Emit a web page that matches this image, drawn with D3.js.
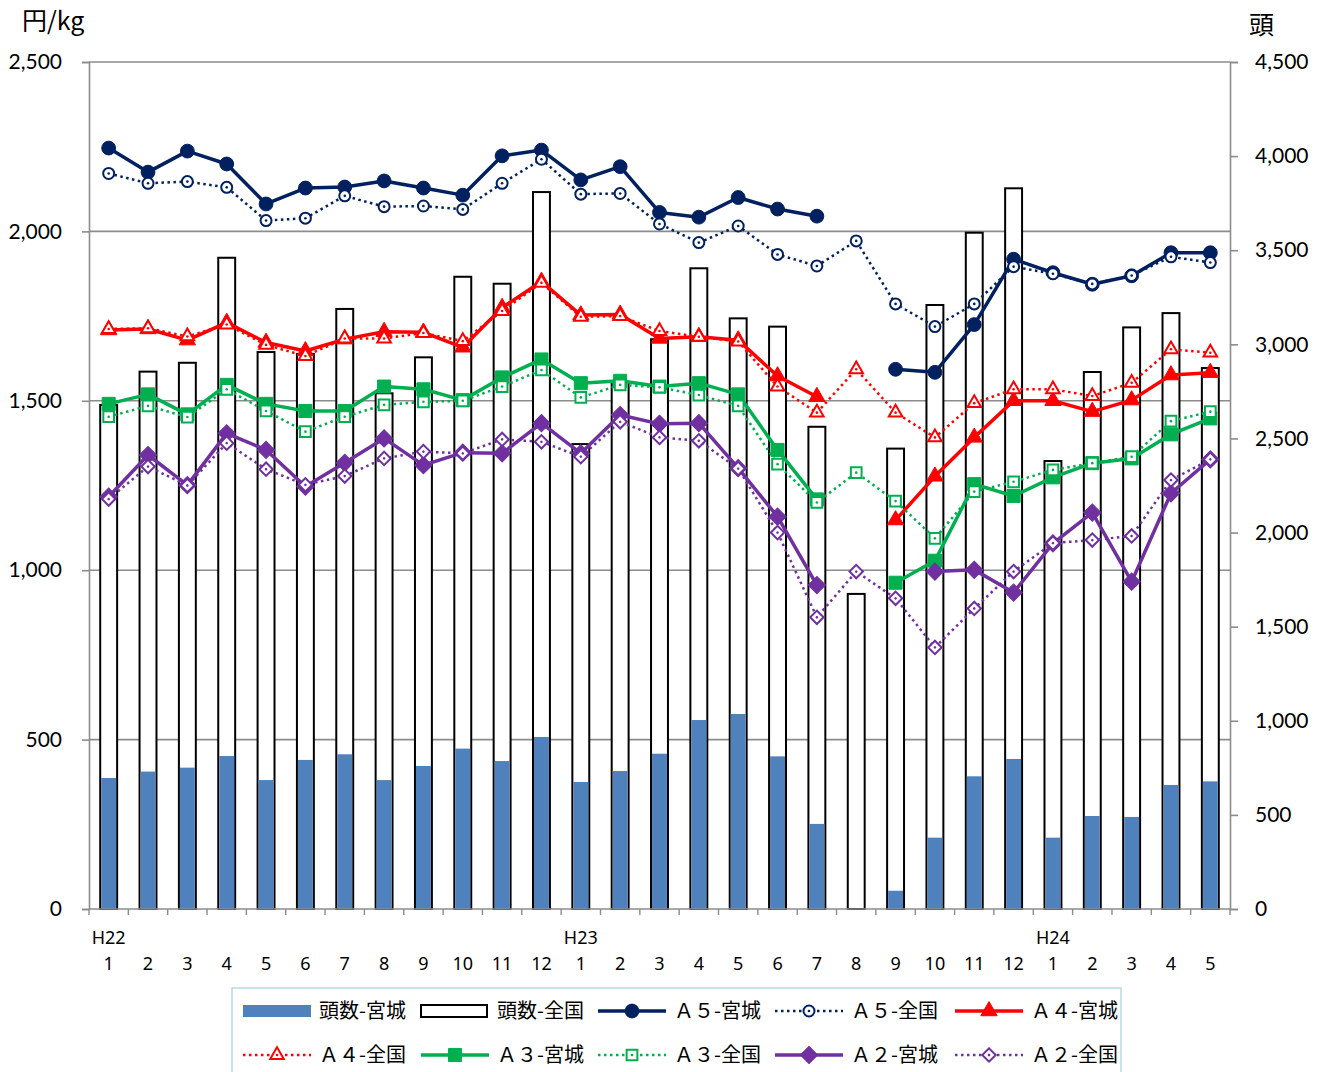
<!DOCTYPE html>
<html>
<head>
<meta charset="utf-8">
<script src="https://cdn.jsdelivr.net/npm/d3@7"></script>
<style>
  html, body { margin: 0; padding: 0; background: #fff; }
  svg { display: block; }
</style>
</head>
<body>
<svg id="chart" width="1323" height="1072"></svg>
<script>
// Months from H22.1 to H24.5
const months = ["1","2","3","4","5","6","7","8","9","10","11","12",
                "1","2","3","4","5","6","7","8","9","10","11","12",
                "1","2","3","4","5"];
const eraLabels = [{ idx: 0, text: "H22" }, { idx: 12, text: "H23" }, { idx: 24, text: "H24" }];

// Head counts (right axis, 頭)
const headMiyagi   = [696,730,751,813,685,792,822,685,760,852,786,914,
                      675,733,825,1004,1036,811,452,0,97,379,705,797,
                      379,494,489,659,678];
const headNational = [2678,2855,2902,3460,2959,2949,3188,2740,2931,3359,3322,3809,
                      2470,2800,3027,3404,3138,3094,2562,1674,2446,3209,3593,3829,
                      2380,2853,3090,3166,2874];

// Prices by grade (left axis, 円/kg); null = no trade that month
const a5Miyagi   = [2246,2175,2237,2199,2081,2128,2131,2149,2128,2107,2223,2240,
                    2152,2191,2056,2042,2100,2066,2045,null,1593,1584,1725,1918,
                    1878,1844,1869,1937,1937];
const a5National = [2171,2142,2147,2130,2032,2039,2105,2073,2075,2065,2142,2213,
                    2110,2112,2022,1967,2016,1932,1898,1972,1786,1719,1786,1896,
                    1875,1845,1870,1925,1908];
const a4Miyagi   = [1709,1712,1679,1731,1672,1647,1682,1704,1702,1658,1775,1852,
                    1753,1755,1684,1689,1679,1573,1512,null,1148,1277,1392,1500,
                    1500,1468,1502,1576,1583];
const a4National = [1712,1714,1690,1725,1665,1632,1684,1684,1700,1676,1765,1848,
                    1748,1750,1706,1689,1675,1542,1465,1593,1465,1392,1493,1534,
                    1534,1514,1553,1652,1642];
const a3Miyagi   = [1491,1519,1460,1547,1491,1470,1470,1542,1534,1502,1569,1622,
                    1552,1559,1542,1552,1519,1355,1209,null,963,1028,1254,1219,
                    1274,1316,1330,1401,1448];
const a3National = [1453,1485,1452,1534,1470,1409,1453,1488,1497,1500,1542,1591,
                    1510,1547,1540,1517,1485,1313,1200,1288,1204,1094,1232,1261,
                    1296,1316,1335,1440,1468];
const a2Miyagi   = [1217,1340,1251,1404,1355,1247,1317,1389,1310,1347,1345,1434,
                    1345,1458,1432,1434,1301,1158,956,null,null,996,1001,934,
                    1079,1170,966,1227,1327];
const a2National = [1210,1306,1250,1375,1298,1252,1278,1330,1350,1345,1386,1379,
                    1335,1438,1392,1382,1300,1111,861,996,917,772,887,996,
                    1080,1089,1101,1266,1327];

const leftTicks  = [0,500,1000,1500,2000,2500];
const rightTicks = [0,500,1000,1500,2000,2500,3000,3500,4000,4500];

const NAVY = "#002060", RED = "#ff0000", GREEN = "#00b050", PURPLE = "#7030a0", BLUE = "#4f81bd";

const lineSeries = [
  { name: "Ａ５-宮城", values: a5Miyagi,   color: NAVY,   solid: true,  shape: "circle" },
  { name: "Ａ５-全国", values: a5National, color: NAVY,   solid: false, shape: "circle" },
  { name: "Ａ４-宮城", values: a4Miyagi,   color: RED,    solid: true,  shape: "triangle" },
  { name: "Ａ４-全国", values: a4National, color: RED,    solid: false, shape: "triangle" },
  { name: "Ａ３-宮城", values: a3Miyagi,   color: GREEN,  solid: true,  shape: "square" },
  { name: "Ａ３-全国", values: a3National, color: GREEN,  solid: false, shape: "square" },
  { name: "Ａ２-宮城", values: a2Miyagi,   color: PURPLE, solid: true,  shape: "diamond" },
  { name: "Ａ２-全国", values: a2National, color: PURPLE, solid: false, shape: "diamond" }
];

const plot = { left: 89, right: 1230, top: 62, bottom: 909 };
const svg = d3.select("#chart");

const x = d3.scaleBand().domain(d3.range(months.length)).range([plot.left, plot.right]).padding(0);
const yL = d3.scaleLinear().domain([0, 2500]).range([plot.bottom, plot.top]);
const yR = d3.scaleLinear().domain([0, 4500]).range([plot.bottom, plot.top]);
const cx = i => x(i) + x.bandwidth() / 2;
const barW = x.bandwidth() * 0.43;

const numFont = "Lato, 'Liberation Sans', sans-serif";
const cjkFont = "'Noto Sans CJK JP', 'Noto Sans', sans-serif";
const narrowFont = "'Liberation Sans Narrow', 'Noto Sans', sans-serif";

// horizontal gridlines
svg.append("g").selectAll("line").data(leftTicks.filter(d => d > 0)).join("line")
  .attr("x1", plot.left).attr("x2", plot.right)
  .attr("y1", d => yL(d)).attr("y2", d => yL(d))
  .attr("stroke", "#8c8c8c").attr("stroke-width", 1.6);

// bars: national (outlined) behind, Miyagi (filled) in front
svg.append("g").selectAll("rect").data(headNational).join("rect")
  .attr("x", (d, i) => cx(i) - barW / 2).attr("width", barW)
  .attr("y", d => yR(d)).attr("height", d => plot.bottom - yR(d))
  .attr("fill", "#fff").attr("stroke", "#000").attr("stroke-width", 2);
svg.append("g").selectAll("rect").data(headMiyagi).join("rect")
  .attr("x", (d, i) => cx(i) - barW / 2 + 1).attr("width", barW - 2)
  .attr("y", d => yR(d)).attr("height", d => plot.bottom - yR(d))
  .attr("fill", BLUE);

// axes
const axL = svg.append("g").attr("transform", `translate(${plot.left},0)`)
  .call(d3.axisLeft(yL).tickValues(leftTicks).tickFormat(d3.format(",")).tickSize(7).tickPadding(20));
const axR = svg.append("g").attr("transform", `translate(${plot.right},0)`)
  .call(d3.axisRight(yR).tickValues(rightTicks).tickFormat(d3.format(",")).tickSize(8).tickPadding(17));
[axL, axR].forEach(g => {
  g.select(".domain").attr("stroke", "#8c8c8c").attr("stroke-width", 1.6);
  g.selectAll(".tick line").attr("stroke", "#8c8c8c").attr("stroke-width", 1.6);
  g.selectAll(".tick text").attr("font-family", numFont).attr("font-size", 21).attr("fill", "#000");
});

// bottom axis line and category ticks
svg.append("line").attr("x1", plot.left).attr("x2", plot.right)
  .attr("y1", plot.bottom).attr("y2", plot.bottom)
  .attr("stroke", "#8c8c8c").attr("stroke-width", 1.6);
svg.append("g").selectAll("line").data(d3.range(months.length + 1)).join("line")
  .attr("x1", i => i < months.length ? x(i) : plot.right)
  .attr("x2", i => i < months.length ? x(i) : plot.right)
  .attr("y1", plot.bottom).attr("y2", plot.bottom + 6)
  .attr("stroke", "#8c8c8c").attr("stroke-width", 1.4);

svg.append("g").selectAll("text").data(months).join("text")
  .attr("x", (d, i) => cx(i)).attr("y", 970)
  .attr("text-anchor", "middle").attr("font-family", narrowFont).attr("font-size", 18)
  .text(d => d);
svg.append("g").selectAll("text").data(eraLabels).join("text")
  .attr("x", d => cx(d.idx)).attr("y", 944)
  .attr("text-anchor", "middle").attr("font-family", narrowFont).attr("font-size", 18)
  .text(d => d.text);

// axis titles
svg.append("text").attr("x", 22).attr("y", 30).attr("font-family", cjkFont).attr("font-size", 25).text("円/kg");
svg.append("text").attr("x", 1249).attr("y", 34).attr("font-family", cjkFont).attr("font-size", 25).text("頭");

// marker shapes
function markerPath(shape, solid) {
  const sizes = solid
    ? { circle: 150, triangle: 115, square: 170, diamond: 150 }
    : { circle: 95, triangle: 80, square: 115, diamond: 90 };
  const type = { circle: d3.symbolCircle, triangle: d3.symbolTriangle, square: d3.symbolSquare, diamond: d3.symbolSquare }[shape];
  return d3.symbol().type(type).size(sizes[shape])();
}

function drawMarker(g, s, px, py) {
  const rot = s.shape === "diamond" ? " rotate(45)" : "";
  const m = g.append("g").attr("transform", `translate(${px},${py})${rot}`);
  m.append("path").attr("d", markerPath(s.shape, s.solid))
    .attr("fill", s.solid ? s.color : "#fff")
    .attr("stroke", s.color).attr("stroke-width", s.solid ? 1 : 2);
  if (!s.solid) m.append("circle").attr("r", 1.3).attr("fill", s.color);
}

// price lines
const lineGen = d3.line().defined(d => d.v != null).x(d => cx(d.i)).y(d => yL(d.v));
lineSeries.forEach(s => {
  const pts = s.values.map((v, i) => ({ v, i }));
  const g = svg.append("g");
  g.append("path").datum(pts).attr("d", lineGen)
    .attr("fill", "none").attr("stroke", s.color)
    .attr("stroke-width", s.solid ? 3.5 : 2.5)
    .attr("stroke-dasharray", s.solid ? null : "2.5,3.5")
    .attr("stroke-linejoin", "round");
  pts.filter(d => d.v != null).forEach(d => drawMarker(g, s, cx(d.i), yL(d.v)));
});

// legend
const legend = svg.append("g");
legend.append("rect").attr("x", 232).attr("y", 988).attr("width", 889).attr("height", 95)
  .attr("fill", "#fff").attr("stroke", "#a9cfe0").attr("stroke-width", 1.2);

const legendItems = [
  { name: "頭数-宮城", kind: "barFill" },
  { name: "頭数-全国", kind: "barOutline" },
  ...lineSeries.map(s => ({ name: s.name, kind: "line", s }))
];
const colX = [243, 421, 598, 775, 955];
const rowY = [1011, 1055];
legendItems.forEach((it, k) => {
  const sx = colX[k % 5], sy = rowY[Math.floor(k / 5)];
  if (it.kind === "barFill") {
    legend.append("rect").attr("x", sx).attr("y", sy - 6).attr("width", 68).attr("height", 12).attr("fill", BLUE);
  } else if (it.kind === "barOutline") {
    legend.append("rect").attr("x", sx).attr("y", sy - 6).attr("width", 66).attr("height", 12)
      .attr("fill", "#fff").attr("stroke", "#000").attr("stroke-width", 2);
  } else {
    const s = it.s;
    legend.append("line").attr("x1", sx).attr("x2", sx + 68).attr("y1", sy).attr("y2", sy)
      .attr("stroke", s.color).attr("stroke-width", s.solid ? 3.5 : 2.5)
      .attr("stroke-dasharray", s.solid ? null : "2.5,3.5");
    drawMarker(legend, s, sx + 34, sy);
  }
  legend.append("text").attr("x", sx + 76).attr("y", sy + 7)
    .attr("font-family", cjkFont).attr("font-size", 20).text(it.name);
});
</script>
</body>
</html>
